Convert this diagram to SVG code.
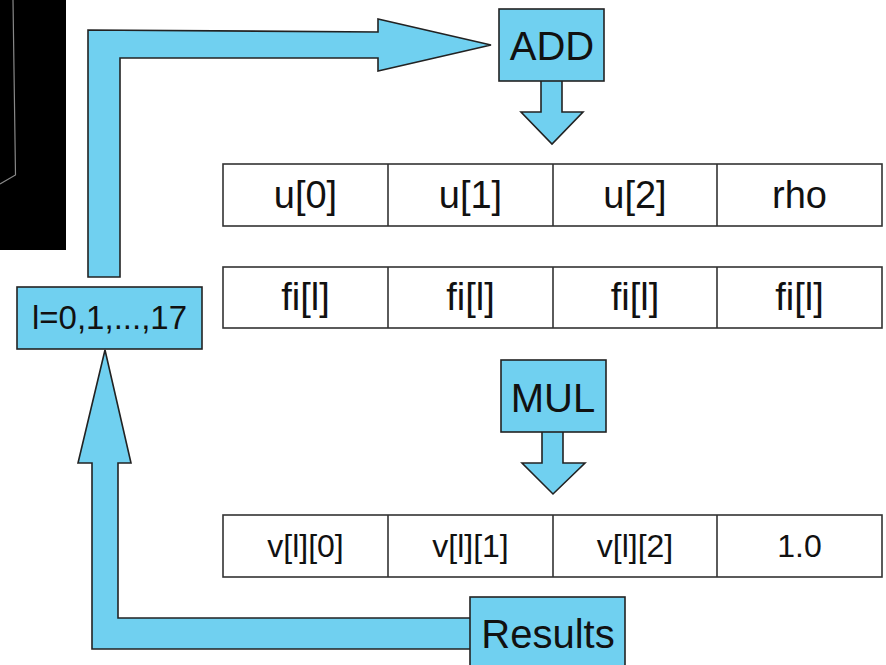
<svg xmlns="http://www.w3.org/2000/svg" width="886" height="665" viewBox="0 0 886 665">
<style>
.blue{fill:#70d0f0;stroke:#222;stroke-width:1.6;stroke-linejoin:miter}
.cell{fill:#fff;stroke:#333;stroke-width:1.6}
text{font-family:"Liberation Sans",Arial,sans-serif;fill:#111;text-anchor:middle}
.big{font-size:40px}
.mid{font-size:38px}
.sm{font-size:32px}
</style>
<rect width="886" height="665" fill="#fff"/>
<g id="backdrop">
<rect x="0" y="0" width="66" height="250" fill="#000"/>
<polyline points="13,0 15.5,175 0,184" fill="none" stroke="#888" stroke-width="1.2"/>
</g>
<g id="connectors">
<polygon class="blue" points="88,277 88,30 378,32 378,19 491,45 378,71 378,58 120,58 120,277"/>
<polygon class="blue" points="92,649 92,463 78,463 105,350 131,463 118,463 118,618 471,618 471,649"/>
<polygon class="blue" points="541,80 562,80 562,112 583,112 552,144 521,112 541,112"/>
<polygon class="blue" points="542,431 563,431 563,463 585,463 553,494 522,463 542,463"/>
</g>
<g id="add">
<rect class="blue" x="499" y="9" width="105" height="72"/>
<text class="big" x="552" y="60">ADD</text>
</g>
<g id="mul">
<rect class="blue" x="501" y="360" width="105" height="72"/>
<text class="big" x="553" y="412">MUL</text>
</g>
<g id="loop">
<rect class="blue" x="17" y="287" width="185" height="62"/>
<text x="109.5" y="329" style="font-size:33px">l=0,1,...,17</text>
</g>
<g id="results">
<rect class="blue" x="470" y="597" width="155" height="75"/>
<text class="big" x="548" y="648">Results</text>
</g>
<g id="row-u">
<rect class="cell" x="223" y="164" width="659" height="62"/>
<line class="cell" x1="388" y1="164" x2="388" y2="226"/>
<line class="cell" x1="553" y1="164" x2="553" y2="226"/>
<line class="cell" x1="717" y1="164" x2="717" y2="226"/>
<text class="mid" x="305.5" y="208">u[0]</text>
<text class="mid" x="470.5" y="208">u[1]</text>
<text class="mid" x="635" y="208">u[2]</text>
<text class="mid" x="799.5" y="208">rho</text>
</g>
<g id="row-fi">
<rect class="cell" x="223" y="267" width="659" height="61"/>
<line class="cell" x1="388" y1="267" x2="388" y2="328"/>
<line class="cell" x1="553" y1="267" x2="553" y2="328"/>
<line class="cell" x1="717" y1="267" x2="717" y2="328"/>
<text class="mid" x="305.5" y="310">fi[l]</text>
<text class="mid" x="470.5" y="310">fi[l]</text>
<text class="mid" x="635" y="310">fi[l]</text>
<text class="mid" x="799.5" y="310">fi[l]</text>
</g>
<g id="row-v">
<rect class="cell" x="223" y="515" width="659" height="62"/>
<line class="cell" x1="388" y1="515" x2="388" y2="577"/>
<line class="cell" x1="553" y1="515" x2="553" y2="577"/>
<line class="cell" x1="717" y1="515" x2="717" y2="577"/>
<text class="sm" x="305.5" y="557">v[l][0]</text>
<text class="sm" x="470.5" y="557">v[l][1]</text>
<text class="sm" x="635" y="557">v[l][2]</text>
<text class="sm" x="799.5" y="557">1.0</text>
</g>
</svg>
